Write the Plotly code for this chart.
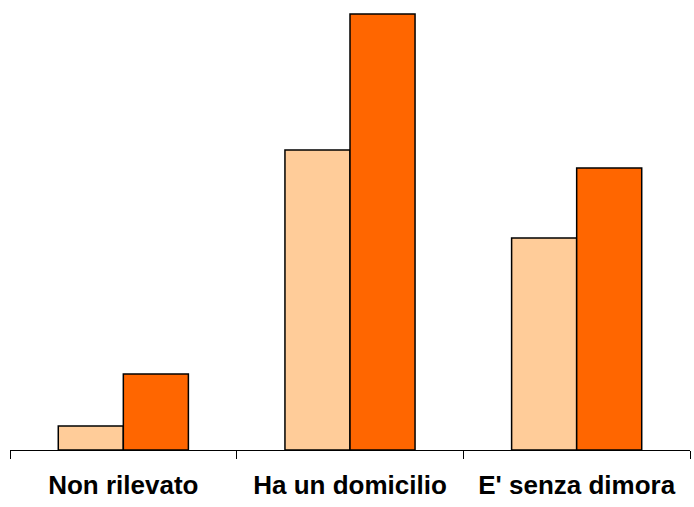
import plotly.graph_objects as go

categories = ["Non rilevato", "Ha un domicilio", "E' senza dimora"]
series_a = [24, 300, 212]
series_b = [76, 436, 282]

fig = go.Figure()
fig.add_trace(go.Bar(x=categories, y=series_a, marker=dict(color="#FFCC99", line=dict(color="black", width=1.5))))
fig.add_trace(go.Bar(x=categories, y=series_b, marker=dict(color="#FF6600", line=dict(color="black", width=1.5))))

fig.update_layout(
    width=694, height=507,
    margin=dict(l=10, r=4, t=0, b=57),
    paper_bgcolor="white", plot_bgcolor="white",
    barmode="group", bargap=0.426, bargroupgap=0,
    showlegend=False,
    font=dict(family="Liberation Sans, Arial", color="black"),
)
fig.update_xaxes(
    showline=True, linecolor="black", linewidth=1,
    ticks="outside", tickson="boundaries", ticklen=8, tickcolor="black", tickwidth=1,
    tickfont=dict(size=26, family="Liberation Sans, Arial", weight="bold"),
    ticklabelstandoff=12,
    showgrid=False,
)
fig.update_yaxes(visible=False, range=[0, 450], showgrid=False)

fig.write_html("out.html")
